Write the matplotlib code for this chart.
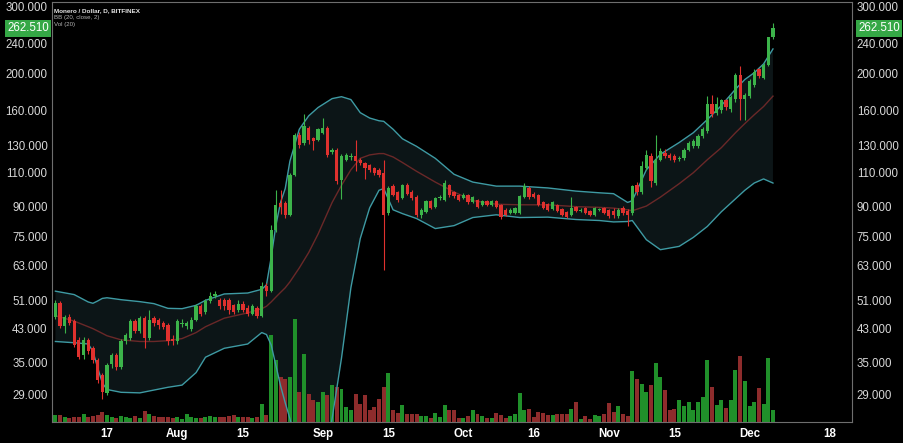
"""
Monero / Dollar daily candles with Bollinger bands and volume (Bitfinex).
"""

import numpy as np
import pandas as pd
import matplotlib

matplotlib.use("Agg")
import matplotlib.pyplot as plt
import matplotlib.dates as mdates
from matplotlib.ticker import NullLocator
from matplotlib.transforms import blended_transform_factory

FIRST_DAY = "2017-07-06"
LAST_DAY = "2017-12-06"

OPEN = [
    46.1, 50.3, 43.7, 46.1, 45.0, 40.2, 36.7, 40.2, 38.2, 35.6,
    32.5, 29.2, 34.8, 36.7, 34.1, 39.8, 40.7, 45.0, 42.3, 45.8,
    40.7, 45.8, 45.3, 44.5, 44.0, 40.5, 39.8, 44.2, 43.6, 43.0,
    45.3, 49.2, 47.6, 50.7, 52.3, 51.1, 51.1, 51.1, 49.5, 48.1,
    50.0, 48.6, 47.1, 48.6, 46.3, 55.6, 53.9, 78.0, 91.5, 91.7,
    85.4, 108.8, 138.5, 131.7, 144.0, 135.5, 134.2, 140.0, 144.5, 124.5,
    126.5, 105.6, 119.1, 121.0, 121.5, 119.1, 116.7, 115.0, 113.0, 112.1,
    110.1, 86.3, 101.3, 97.8, 94.5, 102.0, 98.0, 95.0, 85.4, 87.0,
    92.6, 89.5, 94.5, 93.5, 102.0, 98.0, 96.4, 94.5, 96.0, 92.0,
    93.5, 90.7, 92.6, 90.7, 92.6, 90.7, 88.1, 86.3, 86.3, 86.3,
    94.8, 100.4, 97.0, 96.0, 92.0, 91.0, 88.5, 90.7, 88.6, 87.0,
    85.4, 89.7, 87.5, 89.0, 87.5, 85.4, 87.8, 89.0, 88.0, 87.5,
    85.0, 88.9, 87.5, 86.3, 102.4, 98.2, 113.3, 121.5, 103.4, 119.1,
    124.3, 122.7, 121.5, 119.5, 120.1, 126.5, 128.9, 128.9, 137.3, 141.3,
    166.1, 157.9, 160.3, 170.3, 161.1, 171.1, 198.7, 171.1, 174.6, 186.6,
    205.2, 195.0, 211.2, 248.6,
]
HIGH = [
    51.2, 50.8, 46.8, 46.9, 45.6, 40.8, 40.9, 40.6, 38.8, 36.0,
    33.0, 35.0, 37.2, 37.2, 40.3, 42.0, 45.6, 45.5, 46.5, 46.3,
    48.1, 46.5, 45.8, 45.0, 44.5, 41.5, 45.5, 45.5, 45.0, 46.0,
    49.8, 50.0, 51.3, 53.5, 54.0, 51.8, 51.6, 51.8, 50.0, 51.0,
    50.8, 49.5, 49.8, 49.2, 57.0, 56.5, 80.5, 99.4, 99.0, 93.0,
    110.0, 140.0, 141.0, 156.3, 146.0, 136.5, 144.0, 153.0, 146.0, 128.0,
    128.0, 123.0, 124.0, 124.0, 134.0, 120.0, 117.5, 116.0, 114.0, 113.0,
    119.0, 101.5, 103.0, 98.5, 103.0, 103.5, 99.0, 96.0, 89.0, 93.5,
    93.5, 95.0, 96.5, 105.6, 103.0, 98.8, 97.0, 97.3, 96.8, 95.5,
    94.2, 93.3, 93.2, 93.5, 93.2, 91.3, 88.8, 88.8, 89.6, 96.5,
    103.5, 101.5, 97.8, 96.6, 92.6, 91.6, 92.6, 91.3, 89.2, 87.6,
    94.8, 90.3, 88.8, 89.6, 88.1, 89.6, 89.2, 89.6, 88.6, 89.0,
    89.0, 90.0, 88.5, 102.5, 104.0, 118.0, 126.0, 124.0, 138.5, 128.0,
    127.0, 124.0, 123.0, 122.0, 127.5, 133.0, 135.0, 139.0, 145.0, 175.0,
    176.0, 173.8, 172.0, 172.0, 176.0, 201.0, 209.1, 178.0, 193.0, 205.0,
    207.0, 213.0, 250.0, 271.9,
]
LOW = [
    45.6, 43.2, 42.0, 44.0, 38.6, 35.8, 35.9, 36.8, 35.0, 31.0,
    28.1, 28.8, 34.0, 33.6, 33.8, 39.3, 40.2, 41.8, 41.9, 38.2,
    40.2, 43.8, 43.0, 42.8, 39.0, 39.0, 39.3, 43.5, 43.0, 42.5,
    45.0, 46.5, 47.0, 50.2, 51.8, 48.5, 48.0, 47.0, 47.0, 47.5,
    47.5, 46.5, 46.8, 45.8, 46.0, 52.5, 53.5, 77.0, 86.0, 84.0,
    85.0, 108.0, 128.0, 130.0, 131.0, 126.0, 133.0, 139.0, 121.0, 123.0,
    103.0, 94.2, 118.0, 119.0, 111.0, 115.0, 106.0, 110.5, 108.5, 107.0,
    61.3, 85.5, 95.5, 92.5, 93.8, 96.0, 93.5, 84.5, 84.0, 86.5,
    88.3, 89.0, 93.5, 93.0, 95.0, 94.5, 92.8, 94.0, 91.3, 91.5,
    89.0, 90.2, 90.0, 90.2, 89.2, 83.5, 84.8, 85.8, 85.8, 85.8,
    94.3, 94.0, 94.3, 90.1, 88.4, 87.5, 88.0, 86.6, 84.8, 84.0,
    84.9, 86.6, 86.9, 85.8, 84.8, 84.8, 87.2, 85.8, 84.0, 84.0,
    84.0, 85.5, 80.0, 85.5, 96.5, 97.0, 112.0, 101.0, 102.0, 118.0,
    120.5, 118.5, 117.5, 118.0, 119.0, 125.5, 128.0, 128.0, 136.0, 140.0,
    154.0, 156.0, 158.0, 161.0, 159.0, 169.0, 151.6, 151.6, 173.0, 185.0,
    195.0, 193.0, 209.0, 246.0,
]
CLOSE = [
    50.3, 43.7, 46.1, 44.5, 39.0, 36.3, 40.2, 37.5, 35.6, 31.5,
    29.4, 34.5, 36.7, 34.1, 39.8, 41.5, 45.0, 42.3, 45.8, 40.7,
    45.3, 44.5, 44.0, 43.4, 39.8, 39.8, 45.0, 44.6, 44.5, 45.3,
    49.2, 47.1, 50.7, 52.5, 53.0, 49.2, 49.2, 48.1, 47.6, 50.0,
    48.1, 47.1, 49.2, 46.3, 55.6, 53.9, 78.0, 90.7, 89.5, 85.4,
    108.8, 138.5, 130.4, 145.6, 134.2, 133.5, 142.8, 144.5, 122.7, 126.5,
    104.5, 121.5, 122.7, 121.5, 117.9, 116.7, 113.2, 112.1, 110.1, 108.8,
    85.4, 100.4, 96.4, 93.5, 102.0, 97.0, 94.3, 85.4, 88.1, 92.6,
    89.0, 94.3, 95.2, 103.2, 96.0, 95.5, 93.5, 96.5, 92.0, 94.8,
    89.7, 92.6, 90.7, 92.6, 89.7, 84.5, 85.4, 88.1, 89.0, 95.8,
    101.3, 94.8, 95.0, 90.7, 89.0, 88.1, 92.0, 87.2, 85.4, 84.5,
    89.0, 87.2, 88.0, 86.3, 85.4, 89.0, 88.3, 86.3, 85.0, 85.5,
    87.8, 86.5, 85.4, 101.3, 98.2, 114.4, 122.7, 104.5, 119.1, 125.5,
    121.5, 120.1, 119.1, 120.5, 126.5, 131.7, 133.0, 137.3, 142.8, 166.1,
    156.3, 166.1, 170.3, 163.6, 173.8, 198.7, 171.1, 176.3, 190.9, 202.0,
    196.8, 211.2, 248.6, 262.51,
]
# relative volume, one bar per candle
VOLUME = [
    7, 7, 5, 4, 5, 5, 8, 5, 6, 7,
    10, 7, 5, 4, 6, 5, 4, 6, 4, 11,
    8, 6, 5, 5, 5, 4, 5, 3, 8, 5,
    4, 4, 5, 6, 5, 5, 5, 6, 7, 5,
    5, 5, 4, 5, 18, 7, 87, 62, 45, 43,
    45, 103, 30, 68, 28, 22, 20, 30, 27, 37,
    35, 33, 15, 12, 28, 18, 27, 12, 15, 23,
    35, 49, 12, 9, 17, 8, 8, 8, 6, 6,
    4, 9, 5, 17, 12, 12, 4, 4, 6, 12,
    8, 6, 4, 4, 9, 7, 4, 6, 8, 29,
    12, 13, 5, 10, 9, 7, 7, 8, 8, 8,
    13, 20, 3, 6, 3, 7, 6, 8, 19, 10,
    16, 8, 6, 51, 43, 38, 30, 37, 59, 45,
    32, 12, 13, 22, 16, 20, 12, 20, 25, 62,
    35, 17, 22, 14, 22, 52, 66, 41, 16, 20,
    34, 18, 64, 12,
]

# Bollinger bands (20, close, 2)
BAND_DATES = [
    "2017-07-06", "2017-07-10", "2017-07-13", "2017-07-14", "2017-07-15",
    "2017-07-16", "2017-07-17", "2017-07-20", "2017-07-24", "2017-07-27",
    "2017-07-30", "2017-08-02", "2017-08-05", "2017-08-07", "2017-08-11",
    "2017-08-16", "2017-08-19", "2017-08-20", "2017-08-21", "2017-08-22",
    "2017-08-23", "2017-08-24", "2017-08-25", "2017-08-27", "2017-08-29",
    "2017-08-31", "2017-09-03", "2017-09-05", "2017-09-07", "2017-09-09",
    "2017-09-11", "2017-09-13", "2017-09-14", "2017-09-16", "2017-09-18",
    "2017-09-21", "2017-09-25", "2017-09-29", "2017-10-03", "2017-10-08",
    "2017-10-13", "2017-10-19", "2017-10-25", "2017-10-30", "2017-11-02",
    "2017-11-05", "2017-11-06", "2017-11-09", "2017-11-12", "2017-11-16",
    "2017-11-19", "2017-11-22", "2017-11-25", "2017-11-28", "2017-11-30",
    "2017-12-02", "2017-12-04", "2017-12-06",
]
BB_UPPER = [
    53.9, 52.8, 50.5, 50.1, 50.8, 51.6, 51.8, 51.2, 50.6, 50.0,
    48.6, 48.5, 49.5, 51.0, 53.0, 53.3, 54.5, 56.0, 66.0, 80.0,
    92.0, 100.0, 118.0, 143.0, 155.0, 163.0, 172.0, 174.0, 171.0, 158.0,
    153.0, 150.5, 150.0, 143.0, 135.0, 129.0, 120.0, 109.0, 104.0, 101.5,
    101.5, 100.4, 98.5, 97.5, 97.0, 92.0, 93.0, 112.0, 123.0, 132.0,
    140.0, 151.6, 165.0, 182.0, 193.0, 201.0, 212.0, 232.0,
]
BB_BASIS = [
    46.5, 45.0, 43.5, 43.0, 42.4, 41.8, 41.2, 40.2, 39.8, 39.8,
    40.0, 40.5, 42.0, 43.5, 45.8, 47.3, 48.5, 49.2, 50.5, 52.0,
    53.5, 55.0, 57.0, 62.0, 68.0, 76.0, 92.0, 102.0, 112.0, 120.0,
    122.5, 123.5, 123.5, 121.0, 117.0, 111.0, 104.0, 98.0, 93.0, 91.0,
    90.7, 90.7, 89.7, 89.3, 88.9, 88.0, 87.5, 90.0, 95.0, 103.0,
    110.0, 119.0, 128.0, 140.0, 148.0, 156.0, 164.0, 174.6,
]
BB_LOWER = [
    39.8, 39.5, 39.2, 37.5, 34.0, 31.0, 29.8, 29.3, 29.2, 29.7,
    30.2, 30.6, 33.0, 36.2, 38.2, 39.2, 42.0, 41.5, 39.0, 34.5,
    30.5, 27.5, 25.0, 20.0, 16.0, 15.0, 25.0, 36.0, 55.0, 74.0,
    89.0, 99.0, 100.0, 88.0, 86.0, 83.5, 78.6, 80.0, 84.0, 85.4,
    84.0, 84.2, 83.0, 82.5, 81.8, 82.0, 82.5, 73.5, 69.2, 70.6,
    74.5, 79.6, 87.0, 94.0, 99.0, 103.4, 106.0, 103.4,
]

PRICE_TICKS = [29, 35, 43, 51, 63, 75, 90, 110, 130, 160, 200, 240, 300]
DATE_TICKS = [
    "2017-07-17", "2017-08-01", "2017-08-15", "2017-09-01", "2017-09-15",
    "2017-10-01", "2017-10-16", "2017-11-01", "2017-11-15", "2017-12-01",
    "2017-12-18",
]
DATE_LABELS = ["17", "Aug", "15", "Sep", "15", "Oct", "16", "Nov", "15", "Dec", "18"]
LAST_PRICE = 262.51

UP_COLOR = "#3cb34a"
DOWN_COLOR = "#e0312e"
VOL_UP = "#20902a"
VOL_DOWN = "#8e2c2c"
BAND_COLOR = "#3e9aa3"
BASIS_COLOR = "#6a2828"
TEXT_COLOR = "#d8d8d8"
FRAME_COLOR = "#6e6e6e"

PRICE_LIMITS = (24.5, 307.3)


def create_candle_chart() -> None:
    """Draw candles, bollinger bands and volume."""
    plt.rcParams["font.family"] = ["Liberation Sans", "DejaVu Sans"]

    dates = pd.date_range(FIRST_DAY, LAST_DAY, freq="D")
    x = mdates.date2num(dates)
    o, h, lo, c = (np.array(v, dtype=float) for v in (OPEN, HIGH, LOW, CLOSE))
    rising = c >= o
    candle_colors = np.where(rising, UP_COLOR, DOWN_COLOR)
    volume_colors = np.where(rising, VOL_UP, VOL_DOWN)
    band_x = mdates.date2num(pd.to_datetime(BAND_DATES))

    day0 = mdates.date2num(pd.Timestamp("2017-07-17"))
    x_limits = (day0 - 11.62, day0 + 158.85)

    fig = plt.figure(figsize=(9.04, 4.43), dpi=100, facecolor="black")
    rect = [52.5 / 904, 21 / 443, 799.5 / 904, 419.7 / 443]

    # bottom layer: band fill
    ax_fill = fig.add_axes(rect)
    ax_fill.set_yscale("log")
    ax_fill.fill_between(band_x, BB_LOWER, BB_UPPER, color="#0c1517", linewidth=0)
    ax_fill.set_xlim(*x_limits)
    ax_fill.set_ylim(*PRICE_LIMITS)
    ax_fill.axis("off")

    # middle layer: volume
    ax_vol = fig.add_axes(rect)
    ax_vol.bar(x, VOLUME, width=0.85, color=volume_colors, linewidth=0)
    ax_vol.set_xlim(*x_limits)
    ax_vol.set_ylim(0, 419.7)
    ax_vol.axis("off")

    # top layer: bands and candles
    ax = fig.add_axes(rect)
    ax.patch.set_visible(False)
    ax.set_yscale("log")

    ax.plot(band_x, BB_UPPER, color=BAND_COLOR, lw=1.0, zorder=2)
    ax.plot(band_x, BB_LOWER, color=BAND_COLOR, lw=1.0, zorder=2)
    ax.plot(band_x, BB_BASIS, color=BASIS_COLOR, lw=1.0, zorder=2)

    ax.vlines(x, lo, h, colors=candle_colors, lw=0.8, zorder=3)
    ax.bar(x, np.maximum(np.abs(c - o), 0.15), bottom=np.minimum(o, c),
           width=0.7, color=candle_colors, linewidth=0, zorder=4)

    ax.set_xlim(*x_limits)
    ax.set_ylim(*PRICE_LIMITS)

    ax.set_yticks(PRICE_TICKS)
    ax.set_yticklabels([f"{v:.3f}" for v in PRICE_TICKS])
    ax.yaxis.set_minor_locator(NullLocator())
    ax.tick_params(axis="y", which="both", left=True, right=True,
                   labelleft=True, labelright=True, length=0, pad=3.5,
                   labelsize=8.3, labelcolor=TEXT_COLOR)

    ax.set_xticks(mdates.date2num(pd.to_datetime(DATE_TICKS)))
    ax.set_xticklabels(DATE_LABELS, fontweight="bold")
    ax.tick_params(axis="x", length=0, pad=4, labelsize=8.3, labelcolor="white")

    for spine in ax.spines.values():
        spine.set_color(FRAME_COLOR)
        spine.set_linewidth(0.8)

    # last price badges on both scales
    trans = blended_transform_factory(ax.transAxes, ax.transData)
    badge = dict(boxstyle="square,pad=0.2", fc="#35a846", ec="none")
    ax.text(-0.0044, LAST_PRICE, f"{LAST_PRICE:.3f}", transform=trans,
            ha="right", va="center", fontsize=8.3, color="white", bbox=badge)
    ax.text(1.0075, LAST_PRICE, f"{LAST_PRICE:.3f}", transform=trans,
            ha="left", va="center", fontsize=8.3, color="white", bbox=badge)

    ax.text(0.0023, 0.980, "Monero / Dollar, D, BITFINEX", transform=ax.transAxes,
            fontsize=4.6, fontweight="bold", color="#e6e6e6", va="center")
    ax.text(0.0023, 0.964, "BB (20, close, 2)", transform=ax.transAxes,
            fontsize=4.4, color="#b4b4b4", va="center")
    ax.text(0.0023, 0.948, "Vol (20)", transform=ax.transAxes,
            fontsize=4.4, color="#b4b4b4", va="center")

    fig.savefig("out.png", dpi=100, facecolor="black")


if __name__ == "__main__":
    create_candle_chart()
